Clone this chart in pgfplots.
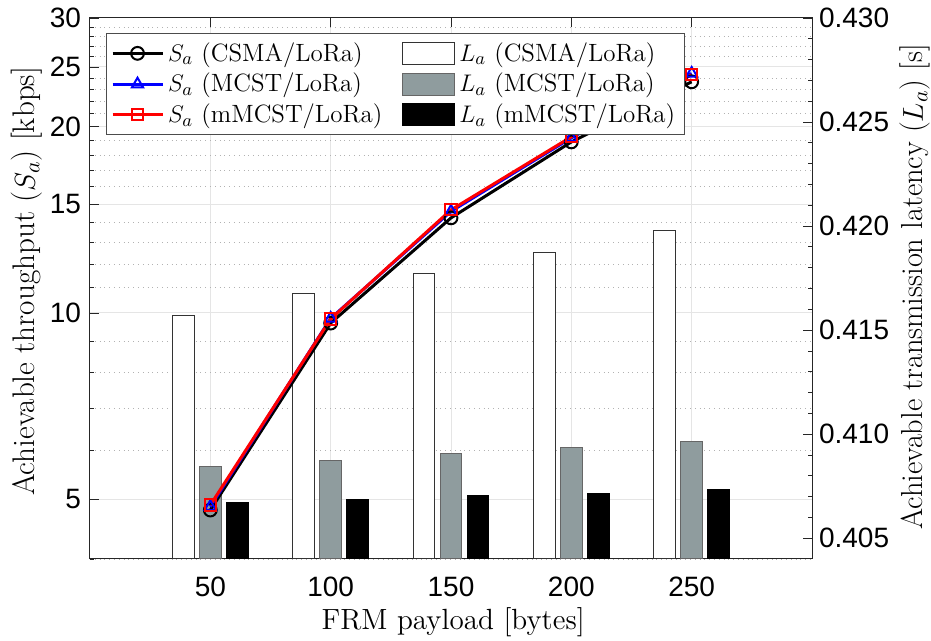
\documentclass[border=0pt]{standalone}
\usepackage{fontspec}
\usepackage{pgfplots}
\pgfplotsset{compat=1.18}
\newfontfamily\arial{Liberation Sans}
\definecolor{axgray}{rgb}{0.15,0.15,0.15}
\definecolor{bargray}{rgb}{0.56,0.61,0.62}
\pgfplotsset{
  mylineleg/.style={legend image code/.code={\draw[mark repeat=2,mark phase=2,##1] plot coordinates {(0pt,0pt)(12.5pt,0pt)(25pt,0pt)};}},
  mybarleg/.style={legend image code/.code={\draw[##1] (0pt,-5.5pt) rectangle (26pt,5.5pt);}},
  common/.style={
    scale only axis, width=361pt, height=270.5pt,
    xmin=0, xmax=300,
    tick align=inside,
    major tick length=4.5pt, minor tick length=2.2pt,
    every tick/.style={axgray, line width=0.4pt},
    tick label style={font=\arial\fontsize{14}{14}\selectfont, text=black},
    label style={font=\fontsize{15.2}{17}\selectfont},
  }
}
\begin{document}
\begin{tikzpicture}
% Axis A: log grid, left ticks, x ticks
\begin{axis}[common, name=A,
  ymode=log, ymin=4, ymax=30,
  axis line style={axgray, line width=0.5pt},
  xtick={50,100,150,200,250}, xticklabels={50,100,150,200,250},
  ytick={5,10,15,20,25,30}, yticklabels={5,10,15,20,25,30},
  minor ytick={4,6,7,8,9,11,12,13,14,16,17,18,19,21,22,23,24,26,27,28,29},
  ytick pos=left,
  grid=both,
  major grid style={color=black!10, line width=0.5pt},
  minor grid style={color=black!30, dotted, line width=0.4pt},
  xticklabel style={anchor=center, yshift=-14pt},
  yticklabel style={xshift=-1pt},
  xlabel={FRM payload [bytes]},
  xlabel style={at={(axis description cs:0.503,-0.1312)}, anchor=base, font=\fontsize{14.6}{17}\selectfont},
  ylabel={Achievable throughput ($S_a$) [kbps]},
  ylabel style={at={(axis description cs:-0.0762,0.513)}, anchor=base, font=\fontsize{15.6}{17}\selectfont},
]
\addplot[draw=none, forget plot] coordinates {(50,5)};
\end{axis}
% Axis B: bars on right axis
\begin{axis}[common,
  ymin=0.404, ymax=0.430,
  axis y line*=right, axis x line=none,
  axis line style={axgray, line width=0.5pt},
  ytick={0.405,0.410,0.415,0.420,0.425,0.430},
  yticklabels={0.405,0.410,0.415,0.420,0.425,0.430},
  minor ytick={0.406,0.407,0.408,0.409,0.411,0.412,0.413,0.414,0.416,0.417,0.418,0.419,0.421,0.422,0.423,0.424,0.426,0.427,0.428,0.429},
  yticklabel style={anchor=west, xshift=0pt},
  ylabel={Achievable transmission latency ($L_a$) [s]},
  ylabel style={at={(axis description cs:1.1537,0.503)}, anchor=base, font=\fontsize{15.2}{17}\selectfont},
]
\addplot[ybar, bar width=9.1, bar shift=-11.2, fill=white, draw=black!80, line width=0.5pt] coordinates {
(50,0.41572) (100,0.41675) (150,0.41774) (200,0.41873) (250,0.41979)};
\addplot[ybar, bar width=9.1, bar shift=0, fill=bargray, draw=black!60, line width=0.5pt] coordinates {
(50,0.40846) (100,0.40875) (150,0.40907) (200,0.40936) (250,0.40966)};
\addplot[ybar, bar width=9.1, bar shift=11.2, fill=black, draw=black, line width=0.5pt] coordinates {
(50,0.40672) (100,0.40688) (150,0.40705) (200,0.40716) (250,0.40732)};
\end{axis}
% Axis C: lines and legend
\begin{axis}[common,
  ymode=log, ymin=4, ymax=30,
  hide axis,
  legend columns=2,
  legend cell align=left,
  legend style={at={(0.0215,0.9723)}, anchor=north west, draw=black!70, line width=0.5pt, fill=white,
    font=\fontsize{12.5}{15}\selectfont, inner sep=2.5pt, row sep=0.5pt,
    /tikz/every even column/.append style={column sep=8pt}},
]
\addlegendimage{mylineleg, black, line width=1.5pt, mark=o, mark size=3.2pt, mark options={line width=1pt}}
\addlegendentry{$S_a$ (CSMA/LoRa)}
\addlegendimage{mybarleg, fill=white, draw=black!80, line width=0.5pt}
\addlegendentry{$L_a$ (CSMA/LoRa)}
\addlegendimage{mylineleg, blue, line width=1.5pt, mark=triangle, mark size=3.2pt, mark options={line width=1pt}}
\addlegendentry{$S_a$ (MCST/LoRa)}
\addlegendimage{mybarleg, fill=bargray, draw=black!60, line width=0.5pt}
\addlegendentry{$L_a$ (MCST/LoRa)}
\addlegendimage{mylineleg, red, line width=1.5pt, mark=square, mark size=2.8pt, mark options={line width=1pt}}
\addlegendentry{$S_a$ (mMCST/LoRa)}
\addlegendimage{mybarleg, fill=black, draw=black, line width=0.5pt}
\addlegendentry{$L_a$ (mMCST/LoRa)}
\addplot[forget plot, black, line width=1.5pt, mark=o, mark size=3.2pt, mark options={line width=1pt}] coordinates {
(50,4.80) (100,9.63) (150,14.25) (200,18.91) (250,23.65)};
\addplot[forget plot, blue, line width=1.5pt, mark=triangle, mark size=3.2pt, mark options={line width=1pt}] coordinates {
(50,4.86) (100,9.80) (150,14.60) (200,19.20) (250,24.40)};
\addplot[forget plot, red, line width=1.5pt, mark=square, mark size=2.8pt, mark options={line width=1pt}] coordinates {
(50,4.89) (100,9.78) (150,14.68) (200,19.27) (250,24.27)};
\end{axis}
\pgfresetboundingbox
\path[use as bounding box] ([shift={(-45pt,-41pt)}]A.south west) rectangle ([shift={(59.5pt,9pt)}]A.north east);
\end{tikzpicture}
\end{document}
